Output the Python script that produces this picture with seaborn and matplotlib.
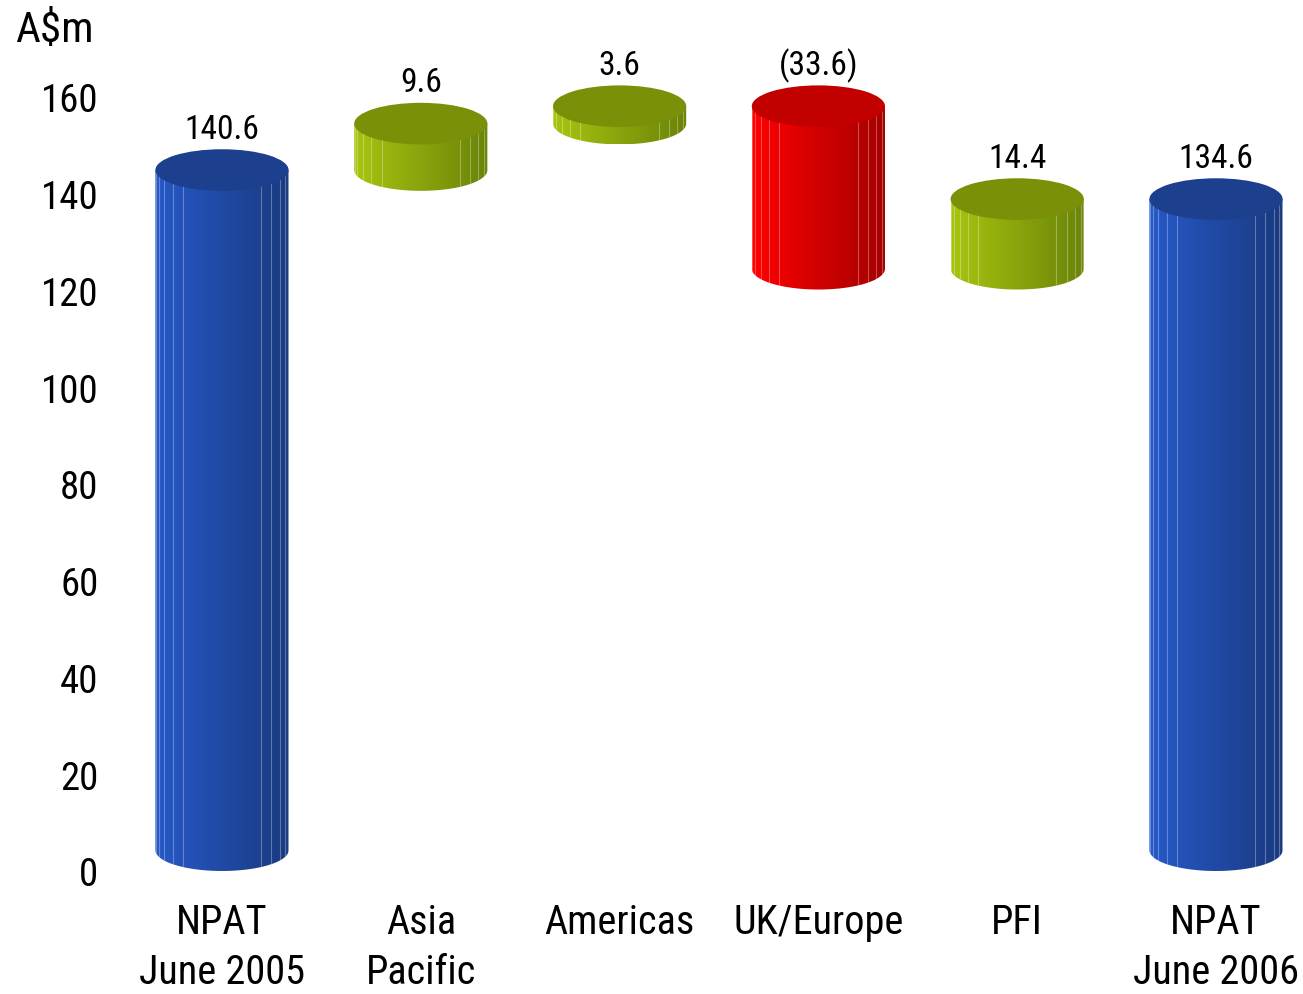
import numpy as np
import matplotlib
matplotlib.use("Agg")
import matplotlib.pyplot as plt
from matplotlib.patches import Ellipse, PathPatch
from matplotlib.path import Path
from matplotlib.colors import LinearSegmentedColormap
import seaborn as sns

# Net profit after tax bridge, A$ millions
categories = ["NPAT\nJune 2005", "Asia\nPacific", "Americas", "UK/Europe", "PFI", "NPAT\nJune 2006"]
changes = [140.6, 9.6, 3.6, -33.6, 14.4, 134.6]
value_labels = ["140.6", "9.6", "3.6", "(33.6)", "14.4", "134.6"]
kinds = ["total", "up", "up", "down", "up", "total"]
yticks = [0, 20, 40, 60, 80, 100, 120, 140, 160]

# side gradient (left, right) and lid colour per kind
palette = {
    "total": ("#2659c8", "#1a3a80", "#1c408e"),
    "up": ("#a8c410", "#6a8408", "#7a9008"),
    "down": ("#ff0000", "#a40000", "#c20000"),
}

sns.set_theme(style="white")
plt.rcParams["font.family"] = ["Roboto Condensed", "DejaVu Sans"]

fig = plt.figure(figsize=(13.03, 9.95), dpi=100)
W, H = 1303, 995
x0_px, x_step = 222, 198.8
xlim = (-0.6, 5.4)
ylim = (0, 172)
y0_px_from_bottom = 123
px_per_unit = 4.8375
ax_left = x0_px + xlim[0] * x_step
ax_width = (xlim[1] - xlim[0]) * x_step
ax_height = (ylim[1] - ylim[0]) * px_per_unit
ax = fig.add_axes([ax_left / W, y0_px_from_bottom / H, ax_width / W, ax_height / H])
ax.set_xlim(*xlim)
ax.set_ylim(*ylim)

# waterfall spans
bottoms, tops = [], []
running = 0.0
for ch, kind in zip(changes, kinds):
    if kind == "total":
        b, t = 0.0, ch
        running = ch
    else:
        start = running
        running = running + ch
        b, t = min(start, running), max(start, running)
    bottoms.append(b)
    tops.append(t)

w = 0.67       # cylinder width in category units
dy = 4.3       # lid semi-axis in data units

theta = np.linspace(np.pi, 2 * np.pi, 60)
facet_angles = np.deg2rad(np.arange(-84, 90, 12))
facet_angles = facet_angles[np.abs(np.sin(facet_angles)) > 0.45]
for i, (b, t, kind) in enumerate(zip(bottoms, tops, kinds)):
    left_c, right_c, lid_c = palette[kind]
    xl, xr = i - w / 2, i + w / 2
    # body outline: straight sides plus the lower half of the base ellipse
    arc_x = i + (w / 2) * np.cos(theta)
    arc_y = (b + dy) + dy * np.sin(theta)
    verts = [(xl, t + dy)] + list(zip(arc_x, arc_y)) + [(xr, t + dy), (xl, t + dy)]
    codes = [Path.MOVETO] + [Path.LINETO] * (len(verts) - 2) + [Path.CLOSEPOLY]
    body = PathPatch(Path(verts, codes), facecolor="none", edgecolor="none")
    ax.add_patch(body)
    cmap = LinearSegmentedColormap.from_list(f"c{i}", [left_c, right_c])
    grad = np.linspace(0, 1, 256).reshape(1, -1)
    im = ax.imshow(grad, cmap=cmap, aspect="auto", extent=(xl, xr, b, t + dy),
                   origin="lower", zorder=2, interpolation="bilinear")
    im.set_clip_path(body)
    # facet edges of the polygonal cylinder
    for ang in facet_angles:
        fx = i + (w / 2) * np.sin(ang)
        ln, = ax.plot([fx, fx], [b, t + dy], color="white", lw=0.8,
                      alpha=0.3, zorder=3)
        ln.set_clip_path(body)
    # lid
    ax.add_patch(Ellipse((i, t + dy), w, 2 * dy, facecolor=lid_c,
                         edgecolor="none", zorder=4))

for i, (t, lab) in enumerate(zip(tops, value_labels)):
    ax.text(i, t + 12.8, lab, ha="center", va="center", fontsize=24, color="black")

ax.set_xticks(range(len(categories)))
ax.set_xticklabels(categories, fontsize=29, linespacing=1.38, color="black")
ax.set_yticks(yticks)
ax.set_yticklabels([str(v) for v in yticks], fontsize=28, color="black")
ax.tick_params(axis="x", length=0, pad=22)
ax.tick_params(axis="y", length=0, pad=3)
for s in ax.spines.values():
    s.set_visible(False)
ax.grid(False)

fig.text(15 / W, 1 - 31 / H, "A\\$m", fontsize=31, ha="left", va="center", color="black")

fig.savefig("out.png", dpi=100, facecolor="white")
